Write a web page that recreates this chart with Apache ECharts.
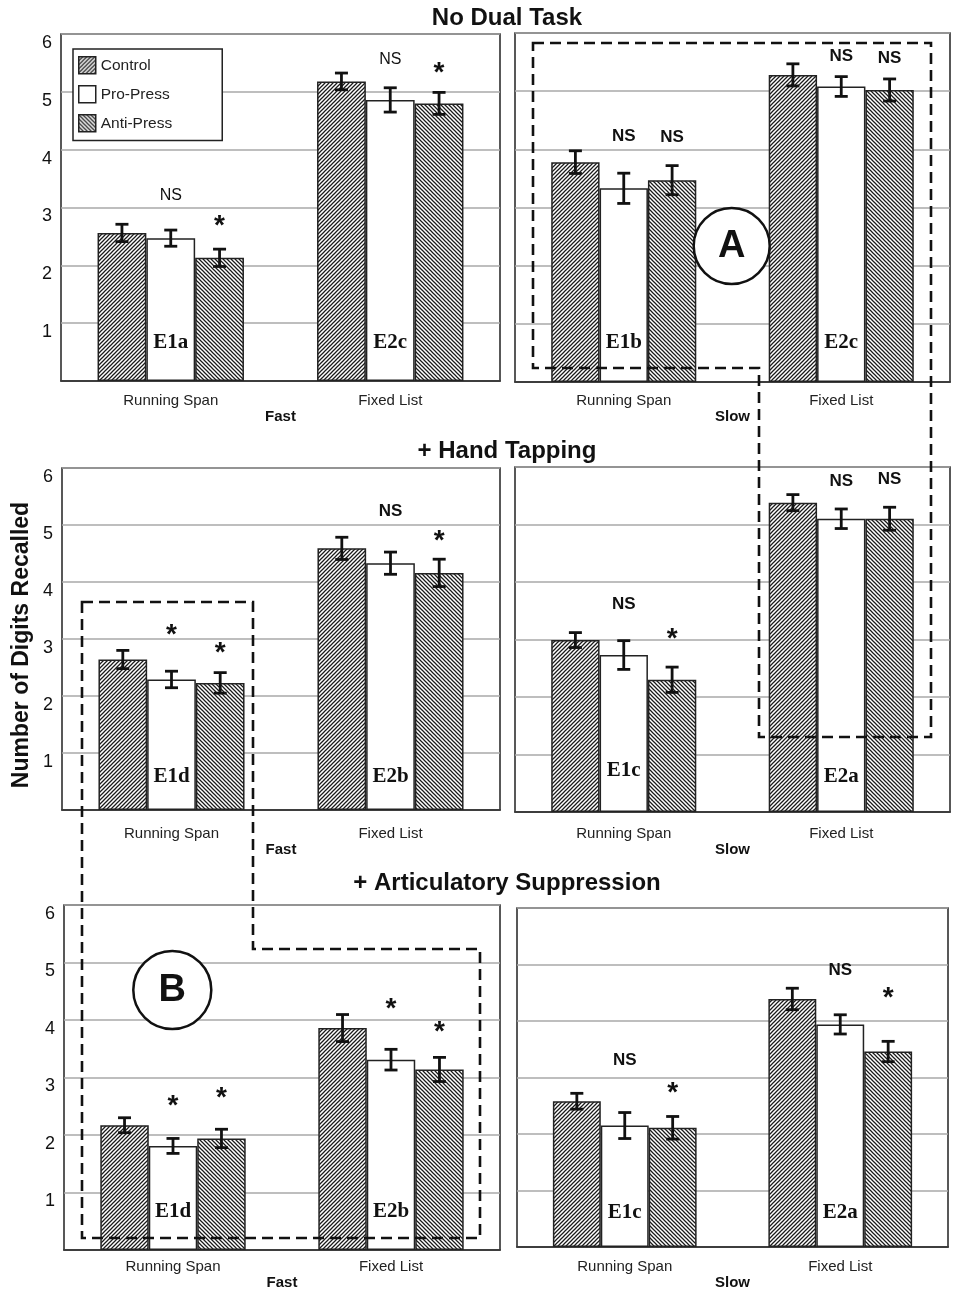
<!DOCTYPE html>
<html>
<head>
<meta charset="utf-8">
<script src="https://cdn.jsdelivr.net/npm/echarts@6/dist/echarts.min.js"></script>
<style>
html,body{margin:0;padding:0;background:#fff;}
#chart{width:977px;height:1299px;}
</style>
</head>
<body>
<div id="chart"></div>
<script>
// ---------------- DATA ----------------
const categories = ['Running Span', 'Fixed List'];
const conditions = ['Control', 'Pro-Press', 'Anti-Press'];
const rowTitles = ['No Dual Task', '+ Hand Tapping', '+ Articulatory Suppression'];
const speedNames = ['Fast', 'Slow', 'Fast', 'Slow', 'Fast', 'Slow'];
const yTicks = [0, 1, 2, 3, 4, 5, 6];
// panels: 0 NoDual-Fast, 1 NoDual-Slow, 2 Hand-Fast, 3 Hand-Slow, 4 Artic-Fast, 5 Artic-Slow
const controlMeans = [[2.56, 5.18], [3.78, 5.28], [2.64, 4.59], [2.99, 5.38], [2.17, 3.86], [2.58, 4.39]];
const proMeans     = [[2.47, 4.86], [3.33, 5.08], [2.29, 4.33], [2.73, 5.10], [1.81, 3.31], [2.15, 3.94]];
const antiMeans    = [[2.13, 4.80], [3.47, 5.02], [2.23, 4.16], [2.30, 5.10], [1.94, 3.14], [2.11, 3.46]];
const controlErr   = [[0.15, 0.145], [0.195, 0.19], [0.16, 0.195], [0.13, 0.14], [0.13, 0.235], [0.14, 0.19]];
const proErr       = [[0.14, 0.21], [0.26, 0.17], [0.145, 0.195], [0.25, 0.17], [0.13, 0.18], [0.23, 0.17]];
const antiErr      = [[0.15, 0.19], [0.25, 0.19], [0.18, 0.24], [0.22, 0.20], [0.16, 0.21], [0.20, 0.18]];
const expLabels = [['E1a', 'E2c'], ['E1b', 'E2c'], ['E1d', 'E2b'], ['E1c', 'E2a'], ['E1d', 'E2b'], ['E1c', 'E2a']];
// significance marks: [panel, category, condition, level, text]
const sigMarks = [
  [0, 0, 1, 3.23, 'NS'], [0, 0, 2, 2.80, '*'], [0, 1, 1, 5.58, 'NS'], [0, 1, 2, 5.44, '*'],
  [1, 0, 1, 4.24, 'NS'], [1, 0, 2, 4.22, 'NS'], [1, 1, 1, 5.62, 'NS'], [1, 1, 2, 5.58, 'NS'],
  [2, 0, 1, 3.18, '*'], [2, 0, 2, 2.88, '*'], [2, 1, 1, 5.26, 'NS'], [2, 1, 2, 4.84, '*'],
  [3, 0, 1, 3.63, 'NS'], [3, 0, 2, 3.12, '*'], [3, 1, 1, 5.77, 'NS'], [3, 1, 2, 5.80, 'NS'],
  [4, 0, 1, 2.62, '*'], [4, 0, 2, 2.76, '*'], [4, 1, 1, 4.31, '*'], [4, 1, 2, 3.90, '*'],
  [5, 0, 1, 3.32, 'NS'], [5, 0, 2, 2.84, '*'], [5, 1, 1, 4.92, 'NS'], [5, 1, 2, 4.52, '*']
];

// ---------------- LAYOUT / STYLE ----------------
const expLabelLevel = [[0.66, 0.66], [0.67, 0.67], [0.58, 0.58], [0.72, 0.61], [0.66, 0.66], [0.61, 0.61]];
const grids = [
  {left: 61, top: 34, width: 439, height: 347},
  {left: 515, top: 33, width: 435, height: 349},
  {left: 62, top: 468, width: 438, height: 342},
  {left: 515, top: 467, width: 435, height: 345},
  {left: 64, top: 905, width: 436, height: 345},
  {left: 517, top: 908, width: 431, height: 339}
];
const catLabelMargin = [12, 11, 16, 14, 9, 12];
const speedNameGap = [26, 25, 29, 27, 23, 25];
const nsBold = [false, true, true, true, true, true];
const SANS = "'Liberation Sans', Arial, sans-serif";
const NARROW = "'Liberation Sans Narrow', 'Liberation Sans', Arial, sans-serif";
const SERIF = "'Liberation Serif', 'Times New Roman', serif";
const CAT_GAP = 0.333;

function hatch(dir) {
  const s = 4;
  const c = document.createElement('canvas');
  c.width = s; c.height = s;
  const ctx = c.getContext('2d');
  ctx.fillStyle = '#fff';
  ctx.fillRect(0, 0, s, s);
  ctx.strokeStyle = '#1a1a1a';
  ctx.lineWidth = 1.25;
  ctx.beginPath();
  if (dir === '/') {
    ctx.moveTo(-1, s + 1); ctx.lineTo(s + 1, -1);
    ctx.moveTo(-1, 1); ctx.lineTo(1, -1);
    ctx.moveTo(s - 1, s + 1); ctx.lineTo(s + 1, s - 1);
  } else {
    ctx.moveTo(-1, -1); ctx.lineTo(s + 1, s + 1);
    ctx.moveTo(s - 1, -1); ctx.lineTo(s + 1, 1);
    ctx.moveTo(-1, s - 1); ctx.lineTo(1, s + 1);
  }
  ctx.stroke();
  return {image: c, repeat: 'repeat'};
}
const fills = [hatch('/'), '#ffffff', hatch('\\')];
const means = [controlMeans, proMeans, antiMeans];
const errs = [controlErr, proErr, antiErr];

const chart = echarts.init(document.getElementById('chart'), null, {renderer: 'canvas'});

const gridOpt = grids.map(g => Object.assign({show: true, borderColor: '#222', borderWidth: 1.5, backgroundColor: '#fff', containLabel: false}, g));

const xAxes = grids.map((g, p) => ({
  type: 'category', gridIndex: p, data: categories,
  axisTick: {show: false},
  axisLine: {show: true, lineStyle: {color: '#222', width: 1.5}},
  axisLabel: {fontSize: 15, color: '#222', margin: catLabelMargin[p], fontFamily: SANS},
  name: speedNames[p], nameLocation: 'middle', nameGap: speedNameGap[p],
  nameTextStyle: {fontSize: 15, fontWeight: 'bold', color: '#111', fontFamily: SANS}
}));

const yAxes = grids.map((g, p) => ({
  type: 'value', gridIndex: p, min: yTicks[0], max: yTicks[yTicks.length - 1], interval: 1,
  axisLine: {show: false}, axisTick: {show: false},
  axisLabel: {show: p % 2 === 0, fontSize: 18, color: '#111', margin: 9, fontFamily: SANS,
    verticalAlign: 'top', padding: [0, 0, 0, 0],
    formatter: v => (v === 0 ? '' : String(v))},
  splitLine: {show: true, lineStyle: {color: '#a8a8a8', width: 1.5}}
}));

const series = [];
grids.forEach((g, p) => {
  conditions.forEach((name, c) => {
    series.push({
      type: 'bar', name: name, xAxisIndex: p, yAxisIndex: p,
      data: means[c][p].slice(),
      barGap: '0%', barCategoryGap: (CAT_GAP * 100) + '%',
      itemStyle: {color: fills[c], borderColor: '#222', borderWidth: 1.5},
      z: 2, silent: true
    });
  });
  // error bars
  const ebData = [];
  conditions.forEach((name, c) => {
    categories.forEach((cat, k) => ebData.push([k, means[c][p][k], errs[c][p][k], c]));
  });
  series.push({
    type: 'custom', xAxisIndex: p, yAxisIndex: p, z: 5, silent: true,
    encode: {x: 0, y: 1},
    data: ebData,
    renderItem: (params, api) => {
      const k = api.value(0), m = api.value(1), e = api.value(2), c = api.value(3);
      const band = api.size([1, 0])[0];
      const bw = band * (1 - CAT_GAP) / 3;
      const x = api.coord([k, m])[0] + (c - 1) * bw;
      const yt = api.coord([k, m + e])[1];
      const yb = api.coord([k, m - e])[1];
      const hw = 6.5;
      const st = {stroke: '#111', lineWidth: 2.8};
      return {type: 'group', children: [
        {type: 'line', shape: {x1: x, y1: yt, x2: x, y2: yb}, style: st},
        {type: 'line', shape: {x1: x - hw, y1: yt, x2: x + hw, y2: yt}, style: st},
        {type: 'line', shape: {x1: x - hw, y1: yb, x2: x + hw, y2: yb}, style: st}
      ]};
    }
  });
  // significance marks
  const marks = sigMarks.filter(m => m[0] === p);
  series.push({
    type: 'custom', xAxisIndex: p, yAxisIndex: p, z: 6, silent: true,
    encode: {x: 0, y: 1},
    data: marks.map(m => [m[1], m[3], m[2]]),
    renderItem: (params, api) => {
      const k = api.value(0), lv = api.value(1), c = api.value(2);
      const txt = marks[params.dataIndex][4];
      const band = api.size([1, 0])[0];
      const bw = band * (1 - CAT_GAP) / 3;
      const pt = api.coord([k, lv]);
      const x = pt[0] + (c - 1) * bw;
      const isStar = txt === '*';
      const font = isStar ? "bold 28px " + SANS : (nsBold[p] ? "bold 17px " + NARROW : "16px " + SANS);
      return {type: 'text', x: x, y: pt[1] + (isStar ? 7 : 1),
        style: {text: txt, font: font, fill: '#111', textAlign: 'center', textVerticalAlign: 'middle'}};
    }
  });
  // experiment labels
  series.push({
    type: 'custom', xAxisIndex: p, yAxisIndex: p, z: 6, silent: true,
    encode: {x: 0, y: 1},
    data: categories.map((cat, k) => [k, expLabelLevel[p][k]]),
    renderItem: (params, api) => {
      const pt = api.coord([api.value(0), api.value(1)]);
      return {type: 'text', x: pt[0], y: pt[1],
        style: {text: expLabels[p][params.dataIndex], font: "bold 21px " + SERIF, fill: '#111',
          textAlign: 'center', textVerticalAlign: 'middle'}};
    }
  });
});

const graphic = [
  {type: 'text', x: 507, y: 18, z: 10, style: {text: rowTitles[0], font: "bold 24px " + SANS, fill: '#111', textAlign: 'center', textVerticalAlign: 'middle'}},
  {type: 'text', x: 507, y: 451, z: 10, style: {text: rowTitles[1], font: "bold 24px " + SANS, fill: '#111', textAlign: 'center', textVerticalAlign: 'middle'}},
  {type: 'text', x: 507, y: 883, z: 10, style: {text: rowTitles[2], font: "bold 24px " + SANS, fill: '#111', textAlign: 'center', textVerticalAlign: 'middle'}},
  {type: 'text', x: 22, y: 645, rotation: Math.PI / 2, z: 10, style: {text: 'Number of Digits Recalled', font: "bold 23px " + SANS, fill: '#111', textAlign: 'center', textVerticalAlign: 'middle'}},
  {type: 'circle', shape: {cx: 731.7, cy: 246, r: 38}, z: 20, style: {fill: '#fff', stroke: '#111', lineWidth: 2.5}},
  {type: 'text', x: 731.7, y: 247, z: 21, style: {text: 'A', font: "bold 38px " + SANS, fill: '#111', textAlign: 'center', textVerticalAlign: 'middle'}},
  {type: 'circle', shape: {cx: 172.3, cy: 990, r: 39}, z: 20, style: {fill: '#fff', stroke: '#111', lineWidth: 2.5}},
  {type: 'text', x: 172.3, y: 991, z: 21, style: {text: 'B', font: "bold 38px " + SANS, fill: '#111', textAlign: 'center', textVerticalAlign: 'middle'}},
  {type: 'polygon', z: 30, shape: {points: [[533, 43], [931, 43], [931, 737], [759, 737], [759, 368], [533, 368]]},
    style: {fill: null, stroke: '#111', lineWidth: 2.6, lineDash: [11, 6]}},
  {type: 'polygon', z: 30, shape: {points: [[82, 602], [253, 602], [253, 949], [480, 949], [480, 1238], [82, 1238]]},
    style: {fill: null, stroke: '#111', lineWidth: 2.6, lineDash: [11, 6]}}
];

chart.setOption({
  animation: false,
  backgroundColor: '#fff',
  grid: gridOpt,
  xAxis: xAxes,
  yAxis: yAxes,
  legend: {
    data: conditions, orient: 'vertical', left: 73, top: 49,
    padding: [7, 50, 8, 5], itemGap: 10.5, itemWidth: 17, itemHeight: 17,
    icon: 'rect', selectedMode: false,
    backgroundColor: '#fff', borderColor: '#222', borderWidth: 1.5,
    itemStyle: {borderColor: '#222', borderWidth: 1.5},
    textStyle: {fontSize: 15.5, color: '#222', fontFamily: SANS}, z: 8
  },
  series: series,
  graphic: graphic
});
</script>
</body>
</html>
